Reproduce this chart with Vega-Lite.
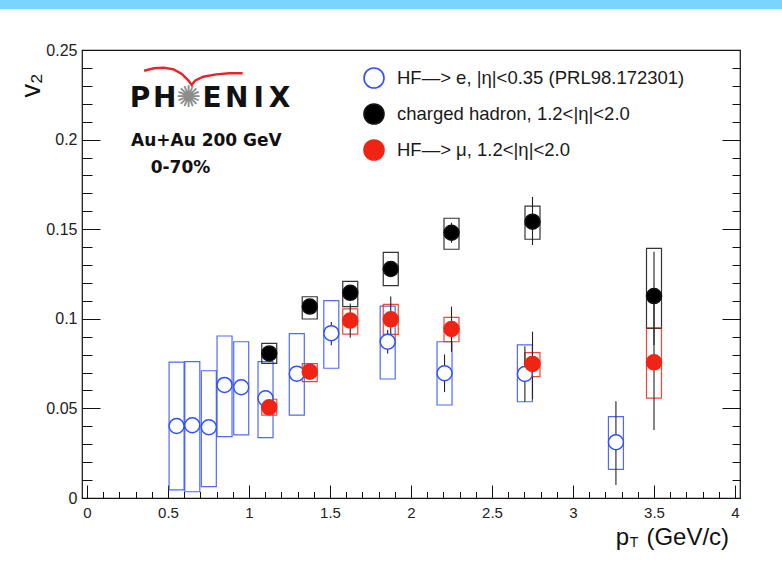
{
  "$schema": "https://vega.github.io/schema/vega-lite/v6.json",
  "width": 658,
  "height": 448,
  "autosize": {"type": "none"},
  "padding": {"left": 82, "top": 50, "right": 42, "bottom": 79},
  "background": "white",
  "config": {
    "view": {"stroke": "#111111", "strokeWidth": 1.2},
    "axis": {"grid": false, "domain": false, "tickColor": "#111111", "tickWidth": 1},
    "legend": {"orient": "none", "legendX": 281, "legendY": 17, "padding": 0, "symbolType": "circle", "symbolSize": 400, "symbolStrokeWidth": 1.6, "symbolOpacity": 1,
               "labelFont": "Liberation Sans", "labelFontSize": 18.5, "labelColor": "#1a1a1a", "labelLimit": 0, "labelOffset": 12, "rowPadding": 8}
  },
  "resolve": {"axis": {"x": "independent", "y": "independent"}},
  "datasets": {
    "pts": [
      {"series": "HF—> e, |η|<0.35 (PRL98.172301)", "pt": 0.553, "v2": 0.0402, "elo": 0.0372, "ehi": 0.0432, "slo": 0.0045, "shi": 0.0758},
      {"series": "HF—> e, |η|<0.35 (PRL98.172301)", "pt": 0.650, "v2": 0.0406, "elo": 0.0376, "ehi": 0.0436, "slo": 0.0035, "shi": 0.0761},
      {"series": "HF—> e, |η|<0.35 (PRL98.172301)", "pt": 0.752, "v2": 0.0395, "elo": 0.0365, "ehi": 0.0425, "slo": 0.0063, "shi": 0.0710},
      {"series": "HF—> e, |η|<0.35 (PRL98.172301)", "pt": 0.849, "v2": 0.0631, "elo": 0.0601, "ehi": 0.0661, "slo": 0.0342, "shi": 0.0904},
      {"series": "HF—> e, |η|<0.35 (PRL98.172301)", "pt": 0.952, "v2": 0.0618, "elo": 0.0588, "ehi": 0.0648, "slo": 0.0352, "shi": 0.0872},
      {"series": "HF—> e, |η|<0.35 (PRL98.172301)", "pt": 1.102, "v2": 0.0556, "elo": 0.0526, "ehi": 0.0586, "slo": 0.0337, "shi": 0.0761},
      {"series": "HF—> e, |η|<0.35 (PRL98.172301)", "pt": 1.295, "v2": 0.0694, "elo": 0.0664, "ehi": 0.0724, "slo": 0.0463, "shi": 0.0917},
      {"series": "HF—> e, |η|<0.35 (PRL98.172301)", "pt": 1.508, "v2": 0.0920, "elo": 0.0852, "ehi": 0.0982, "slo": 0.0724, "shi": 0.1101},
      {"series": "HF—> e, |η|<0.35 (PRL98.172301)", "pt": 1.856, "v2": 0.0872, "elo": 0.0807, "ehi": 0.0937, "slo": 0.0664, "shi": 0.1071},
      {"series": "HF—> e, |η|<0.35 (PRL98.172301)", "pt": 2.207, "v2": 0.0696, "elo": 0.0591, "ehi": 0.0801, "slo": 0.0519, "shi": 0.0872},
      {"series": "HF—> e, |η|<0.35 (PRL98.172301)", "pt": 2.703, "v2": 0.0692, "elo": 0.0537, "ehi": 0.0847, "slo": 0.0537, "shi": 0.0854},
      {"series": "HF—> e, |η|<0.35 (PRL98.172301)", "pt": 3.265, "v2": 0.0311, "elo": 0.0073, "ehi": 0.0540, "slo": 0.0160, "shi": 0.0454},
      {"series": "charged hadron, 1.2<|η|<2.0", "pt": 1.125, "v2": 0.0807, "elo": 0.0777, "ehi": 0.0837, "slo": 0.0751, "shi": 0.0863},
      {"series": "charged hadron, 1.2<|η|<2.0", "pt": 1.375, "v2": 0.1068, "elo": 0.1038, "ehi": 0.1098, "slo": 0.0999, "shi": 0.1123},
      {"series": "charged hadron, 1.2<|η|<2.0", "pt": 1.625, "v2": 0.1145, "elo": 0.1115, "ehi": 0.1175, "slo": 0.1068, "shi": 0.1209},
      {"series": "charged hadron, 1.2<|η|<2.0", "pt": 1.875, "v2": 0.1278, "elo": 0.1238, "ehi": 0.1318, "slo": 0.1185, "shi": 0.1371},
      {"series": "charged hadron, 1.2<|η|<2.0", "pt": 2.25, "v2": 0.1480, "elo": 0.1424, "ehi": 0.1536, "slo": 0.1388, "shi": 0.1561},
      {"series": "charged hadron, 1.2<|η|<2.0", "pt": 2.75, "v2": 0.1542, "elo": 0.1412, "ehi": 0.1680, "slo": 0.1444, "shi": 0.1629},
      {"series": "charged hadron, 1.2<|η|<2.0", "pt": 3.5, "v2": 0.1127, "elo": 0.0854, "ehi": 0.1374, "slo": 0.0947, "shi": 0.1393},
      {"series": "HF—> μ, 1.2<|η|<2.0", "pt": 1.125, "v2": 0.0506, "elo": 0.0476, "ehi": 0.0536, "slo": 0.0463, "shi": 0.0551},
      {"series": "HF—> μ, 1.2<|η|<2.0", "pt": 1.375, "v2": 0.0705, "elo": 0.0665, "ehi": 0.0745, "slo": 0.0649, "shi": 0.0750},
      {"series": "HF—> μ, 1.2<|η|<2.0", "pt": 1.625, "v2": 0.0990, "elo": 0.0894, "ehi": 0.1086, "slo": 0.0915, "shi": 0.1055},
      {"series": "HF—> μ, 1.2<|η|<2.0", "pt": 1.875, "v2": 0.0997, "elo": 0.0870, "ehi": 0.1124, "slo": 0.0913, "shi": 0.1081},
      {"series": "HF—> μ, 1.2<|η|<2.0", "pt": 2.25, "v2": 0.0943, "elo": 0.0816, "ehi": 0.1068, "slo": 0.0872, "shi": 0.1008},
      {"series": "HF—> μ, 1.2<|η|<2.0", "pt": 2.75, "v2": 0.0748, "elo": 0.0551, "ehi": 0.0928, "slo": 0.0677, "shi": 0.0811},
      {"series": "HF—> μ, 1.2<|η|<2.0", "pt": 3.5, "v2": 0.0757, "elo": 0.0380, "ehi": 0.1134, "slo": 0.0557, "shi": 0.0950}
    ]
  },
  "layer": [
    {
      "description": "header band across the top of the page",
      "data": {"values": [{"x1": -0.6, "x2": 4.4, "y1": 0.2729, "y2": 0.29}]},
      "mark": {"type": "rect", "color": "#78d5fe"},
      "encoding": {
        "x": {"field": "x1", "type": "quantitative", "axis": null, "scale": {"domain": [0, 4], "nice": false, "zero": false}},
        "x2": {"field": "x2"},
        "y": {"field": "y1", "type": "quantitative", "axis": null, "scale": {"domain": [0, 0.25], "nice": false, "zero": false}},
        "y2": {"field": "y2"}
      }
    },
    {
      "description": "logo swoosh",
      "data": {"values": [
        {"i": 0, "x": 0.3526, "y": 0.2384},
        {"i": 1, "x": 0.4134, "y": 0.2398},
        {"i": 2, "x": 0.4742, "y": 0.2401},
        {"i": 3, "x": 0.5350, "y": 0.2392},
        {"i": 4, "x": 0.5854, "y": 0.2366},
        {"i": 5, "x": 0.6261, "y": 0.2329},
        {"i": 6, "x": 0.6462, "y": 0.2305},
        {"i": 7, "x": 0.6669, "y": 0.2329},
        {"i": 8, "x": 0.7173, "y": 0.2351},
        {"i": 9, "x": 0.7982, "y": 0.2364},
        {"i": 10, "x": 0.8796, "y": 0.2370},
        {"i": 11, "x": 0.9605, "y": 0.2370}
      ]},
      "mark": {"type": "line", "color": "#e4252b", "strokeWidth": 2.4, "clip": false},
      "encoding": {
        "x": {"field": "x", "type": "quantitative", "axis": null, "scale": {"domain": [0, 4], "nice": false, "zero": false}},
        "y": {"field": "y", "type": "quantitative", "axis": null, "scale": {"domain": [0, 0.25], "nice": false, "zero": false}},
        "order": {"field": "i", "type": "quantitative"}
      }
    },
    {
      "description": "logo lettering",
      "data": {"values": [
        {"t": "P", "x": 0.327, "y": 0.2184},
        {"t": "H", "x": 0.479, "y": 0.2184},
        {"t": "E", "x": 0.772, "y": 0.2184},
        {"t": "N", "x": 0.924, "y": 0.2184},
        {"t": "I", "x": 1.060, "y": 0.2184},
        {"t": "X", "x": 1.188, "y": 0.2184}
      ]},
      "mark": {"type": "text", "font": "DejaVu Sans", "fontWeight": "bold", "fontSize": 28, "align": "center", "baseline": "alphabetic", "color": "#111111"},
      "encoding": {
        "x": {"field": "x", "type": "quantitative", "axis": null, "scale": {"domain": [0, 4], "nice": false, "zero": false}},
        "y": {"field": "y", "type": "quantitative", "axis": null, "scale": {"domain": [0, 0.25], "nice": false, "zero": false}},
        "text": {"field": "t"}
      }
    },
    {
      "description": "logo starburst",
      "data": {"values": [{"t": "✺", "x": 0.626, "y": 0.2232}]},
      "mark": {"type": "text", "font": "DejaVu Sans", "fontSize": 30, "align": "center", "baseline": "middle", "color": "#8c8c8c"},
      "encoding": {
        "x": {"field": "x", "type": "quantitative", "axis": null, "scale": {"domain": [0, 4], "nice": false, "zero": false}},
        "y": {"field": "y", "type": "quantitative", "axis": null, "scale": {"domain": [0, 0.25], "nice": false, "zero": false}},
        "text": {"field": "t"}
      }
    },
    {
      "description": "collision system and centrality",
      "data": {"values": [
        {"t": "Au+Au 200 GeV", "x": 0.2717, "y": 0.1964},
        {"t": "0-70%", "x": 0.3933, "y": 0.1814}
      ]},
      "mark": {"type": "text", "font": "DejaVu Sans", "fontWeight": "bold", "fontSize": 17, "align": "left", "baseline": "alphabetic", "color": "#111111"},
      "encoding": {
        "x": {"field": "x", "type": "quantitative", "axis": null, "scale": {"domain": [0, 4], "nice": false, "zero": false}},
        "y": {"field": "y", "type": "quantitative", "axis": null, "scale": {"domain": [0, 0.25], "nice": false, "zero": false}},
        "text": {"field": "t"}
      }
    },
    {
      "description": "systematic uncertainty boxes; carries the labelled axes",
      "data": {"name": "pts"},
      "mark": {"type": "bar", "orient": "vertical", "size": 15, "fill": "transparent", "strokeWidth": 1.2, "strokeOpacity": 0.85},
      "encoding": {
        "x": {"field": "pt", "type": "quantitative",
              "scale": {"domain": [0, 4], "nice": false, "zero": false},
              "axis": {"orient": "bottom", "values": [0, 0.5, 1, 1.5, 2, 2.5, 3, 3.5, 4], "format": "~g", "ticks": false, "domain": false, "title": null,
                       "labelPadding": 7, "labelFont": "Liberation Sans", "labelFontSize": 15, "labelColor": "#222222", "labelFlush": false, "labelOverlap": false}},
        "y": {"field": "slo", "type": "quantitative",
              "scale": {"domain": [0, 0.25], "nice": false, "zero": false},
              "axis": {"orient": "left", "values": [0, 0.05, 0.1, 0.15, 0.2, 0.25], "format": "~g", "ticks": false, "domain": false, "title": null,
                       "labelPadding": 5, "labelFont": "Liberation Sans", "labelFontSize": 16, "labelColor": "#222222", "labelFlush": false, "labelOverlap": false}},
        "y2": {"field": "shi"},
        "stroke": {"field": "series", "type": "nominal", "title": null,
                   "scale": {"domain": ["HF—> e, |η|<0.35 (PRL98.172301)", "charged hadron, 1.2<|η|<2.0", "HF—> μ, 1.2<|η|<2.0"], "range": ["#3050f8", "#111111", "#f02414"]}}
      }
    },
    {
      "description": "statistical error bars; carries the inward ticks on the bottom and left edges",
      "data": {"name": "pts"},
      "mark": {"type": "rule", "color": "#222222", "strokeWidth": 1.1},
      "encoding": {
        "x": {"field": "pt", "type": "quantitative",
              "scale": {"domain": [0, 4], "nice": false, "zero": false},
              "axis": {"orient": "top", "offset": -448, "labels": false, "domain": false, "title": null,
                       "values": [0, 0.1, 0.2, 0.3, 0.4, 0.5, 0.6, 0.7, 0.8, 0.9, 1, 1.1, 1.2, 1.3, 1.4, 1.5, 1.6, 1.7, 1.8, 1.9, 2, 2.1, 2.2, 2.3, 2.4, 2.5, 2.6, 2.7, 2.8, 2.9, 3, 3.1, 3.2, 3.3, 3.4, 3.5, 3.6, 3.7, 3.8, 3.9, 4],
                       "tickSize": {"condition": {"test": "abs(datum.value*2 - round(datum.value*2)) < 0.001", "value": 13}, "value": 6.5}}},
        "y": {"field": "elo", "type": "quantitative",
              "scale": {"domain": [0, 0.25], "nice": false, "zero": false},
              "axis": {"orient": "right", "offset": -658, "labels": false, "domain": false, "title": null,
                       "values": [0, 0.01, 0.02, 0.03, 0.04, 0.05, 0.06, 0.07, 0.08, 0.09, 0.1, 0.11, 0.12, 0.13, 0.14, 0.15, 0.16, 0.17, 0.18, 0.19, 0.2, 0.21, 0.22, 0.23, 0.24, 0.25],
                       "tickSize": {"condition": {"test": "abs(datum.value*20 - round(datum.value*20)) < 0.001", "value": 18}, "value": 10}}},
        "y2": {"field": "ehi"}
      }
    },
    {
      "description": "v2 points with legend; carries the inward ticks on the right edge",
      "data": {"name": "pts"},
      "mark": {"type": "point", "shape": "circle", "filled": true, "size": 225, "strokeWidth": 1.5, "opacity": 1},
      "encoding": {
        "x": {"field": "pt", "type": "quantitative", "axis": null,
              "scale": {"domain": [0, 4], "nice": false, "zero": false}},
        "y": {"field": "v2", "type": "quantitative",
              "scale": {"domain": [0, 0.25], "nice": false, "zero": false},
              "axis": {"orient": "left", "offset": -658, "labels": false, "domain": false, "title": null,
                       "values": [0, 0.01, 0.02, 0.03, 0.04, 0.05, 0.06, 0.07, 0.08, 0.09, 0.1, 0.11, 0.12, 0.13, 0.14, 0.15, 0.16, 0.17, 0.18, 0.19, 0.2, 0.21, 0.22, 0.23, 0.24, 0.25],
                       "tickSize": {"condition": {"test": "abs(datum.value*20 - round(datum.value*20)) < 0.001", "value": 18}, "value": 8}}},
        "fill": {"field": "series", "type": "nominal", "title": null,
                 "scale": {"domain": ["HF—> e, |η|<0.35 (PRL98.172301)", "charged hadron, 1.2<|η|<2.0", "HF—> μ, 1.2<|η|<2.0"], "range": ["#ffffff", "#000000", "#f02414"]}},
        "stroke": {"field": "series", "type": "nominal", "title": null}
      }
    },
    {
      "description": "x axis title: p with subscript T",
      "data": {"values": [
        {"t": "p", "x": 3.264, "y": -0.0262},
        {"t": "(GeV/c)", "x": 3.453, "y": -0.0262}
      ]},
      "mark": {"type": "text", "font": "Liberation Sans", "fontSize": 24, "align": "left", "baseline": "alphabetic", "color": "#111111"},
      "encoding": {
        "x": {"field": "x", "type": "quantitative", "axis": null, "scale": {"domain": [0, 4], "nice": false, "zero": false}},
        "y": {"field": "y", "type": "quantitative", "axis": null, "scale": {"domain": [0, 0.25], "nice": false, "zero": false}},
        "text": {"field": "t"}
      }
    },
    {
      "description": "subscript T",
      "data": {"values": [{"t": "T", "x": 3.351, "y": -0.0273}]},
      "mark": {"type": "text", "font": "Liberation Sans", "fontSize": 14, "align": "left", "baseline": "alphabetic", "color": "#111111"},
      "encoding": {
        "x": {"field": "x", "type": "quantitative", "axis": null, "scale": {"domain": [0, 4], "nice": false, "zero": false}},
        "y": {"field": "y", "type": "quantitative", "axis": null, "scale": {"domain": [0, 0.25], "nice": false, "zero": false}},
        "text": {"field": "t"}
      }
    },
    {
      "description": "y axis title",
      "data": {"values": [{"t": "v₂", "x": -0.2918, "y": 0.2302}]},
      "mark": {"type": "text", "font": "Liberation Sans", "fontSize": 27, "angle": 270, "align": "center", "baseline": "alphabetic", "color": "#111111"},
      "encoding": {
        "x": {"field": "x", "type": "quantitative", "axis": null, "scale": {"domain": [0, 4], "nice": false, "zero": false}},
        "y": {"field": "y", "type": "quantitative", "axis": null, "scale": {"domain": [0, 0.25], "nice": false, "zero": false}},
        "text": {"field": "t"}
      }
    }
  ]
}
